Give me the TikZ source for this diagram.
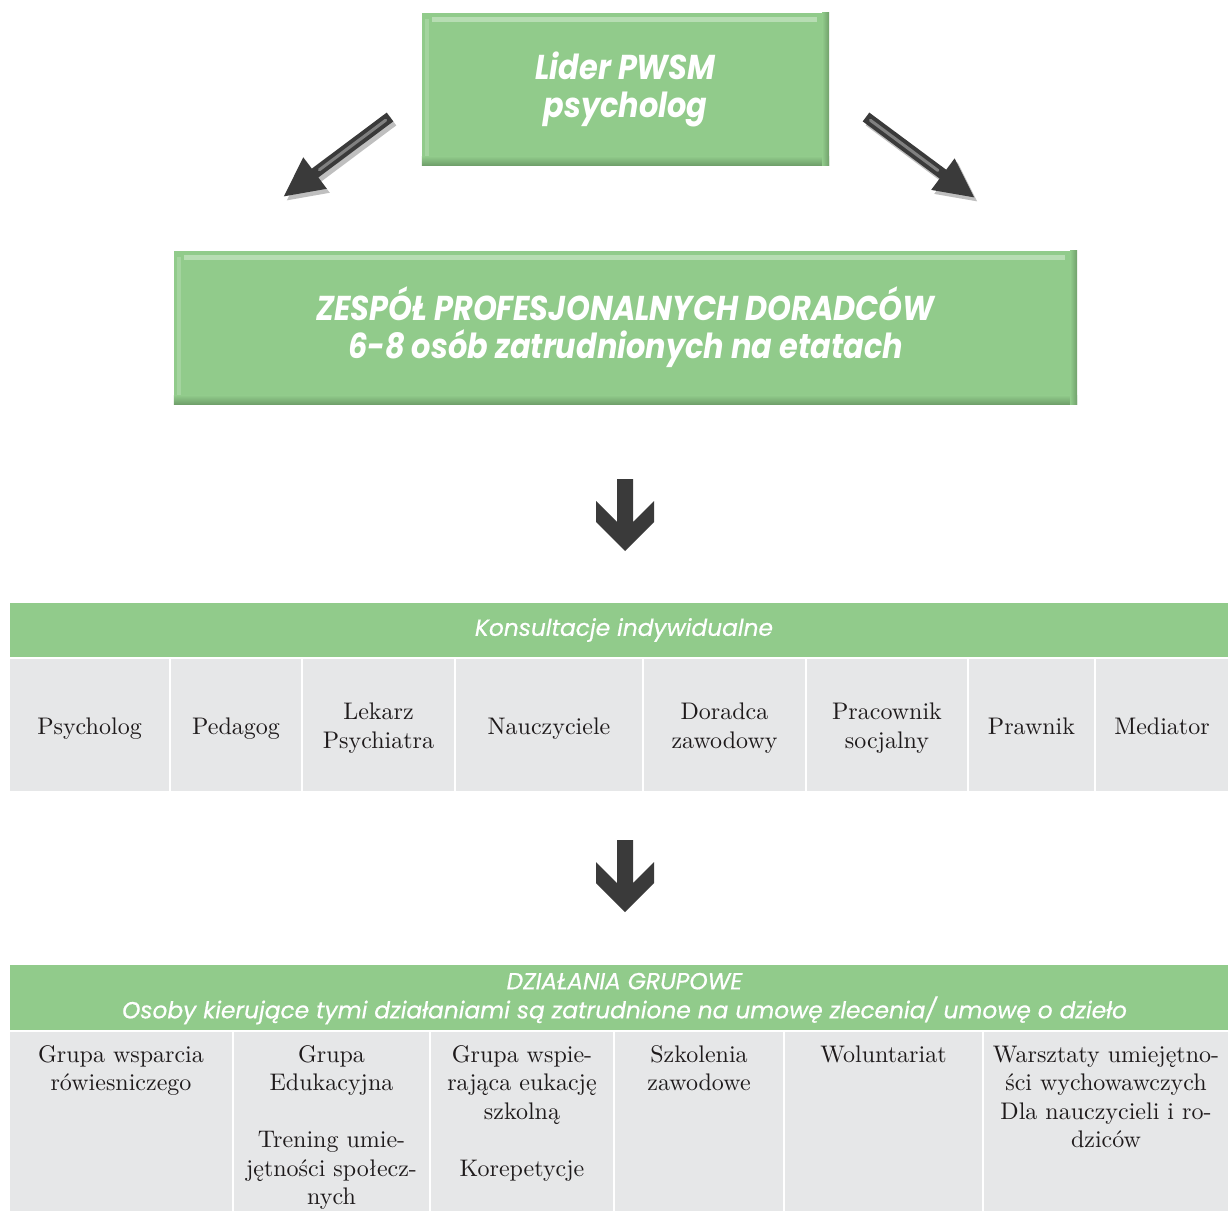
\documentclass[tikz,border=0pt]{standalone}
\usepackage{fontspec}
\setmainfont{lmroman10-regular.otf}
\newfontfamily\gothic[FakeStretch=0.88]{Poppins}
\newfontfamily\gothichdr[FakeBold=0.6]{Poppins}
\usetikzlibrary{arrows.meta,calc}
\pgfdeclarelayer{background}
\pgfsetlayers{background,main}
\definecolor{boxgreen}{HTML}{91CB8B}
\definecolor{boxdark}{HTML}{6F9F6A}
\definecolor{cellgray}{HTML}{E6E7E8}
\definecolor{arrowdark}{HTML}{3A3A3A}
\definecolor{arrowlight}{HTML}{808080}
\definecolor{textdark}{HTML}{1E1A1B}
\tikzset{
  gbox/.style={rectangle, fill=boxgreen, inner sep=0pt, align=center, text=white,
    font=\gothic\bfseries\itshape\fontsize{34.5}{38}\selectfont},
  hdrbar/.style={rectangle, fill=boxgreen, inner sep=0pt, anchor=north west},
  hdrtext/.style={inner sep=0pt, align=center, text=white,
    font=\gothichdr\itshape\fontsize{23.3}{29}\selectfont},
  cellbox/.style={rectangle, fill=cellgray, inner sep=0pt},
  celltext/.style={inner sep=0pt, align=center, text=textdark,
    font=\fontsize{24}{28.5}\selectfont},
  blockarrow/.style={fill=arrowdark},
  diagarrow/.style={line width=11pt, arrowdark, -{Triangle[length=40pt,width=36pt]}},
  diagshadow/.style={line width=11pt, black, opacity=0.25, -{Triangle[length=40pt,width=36pt]}},
  diaglight/.style={line width=3pt, arrowlight, line cap=round},
}
\begin{document}
\begin{tikzpicture}[x=1pt,y=-1pt]
\useasboundingbox[fill=white] (0,0) rectangle (1230,1210);

% ---------- green boxes ----------
\node[gbox, minimum width=407pt, minimum height=152pt] (lider) at (625.5,89) {Lider PWSM\\psycholog};
\node[gbox, minimum width=903pt, minimum height=153pt] (zespol) at (625.5,327.5)
  {ZESPÓŁ PROFESJONALNYCH DORADCÓW\\6-8 osób zatrudnionych na etatach};

\begin{pgfonlayer}{background}
\foreach \n in {lider,zespol}{
  \foreach \s in {0,1,2,3}{
    \fill[black, opacity=0.09] ($(\n.north west)+(4-\s,4-\s)$) rectangle ($(\n.south east)+(5+\s,5+\s)$);
  }
}
\end{pgfonlayer}
\foreach \n in {lider,zespol}{
  \shade[top color=boxgreen, bottom color=boxdark] ($(\n.south west)+(0,-9)$) rectangle (\n.south east);
  \shade[left color=boxgreen, right color=boxdark] ($(\n.north east)+(-7,0)$) rectangle (\n.south east);
  \fill[white, opacity=0.35] ($(\n.north west)+(10,4)$) rectangle ($(\n.north east)+(-12,9)$);
  \fill[white, opacity=0.18] ($(\n.north west)+(3,6)$) rectangle ($(\n.south west)+(7,-9)$);
}

% ---------- diagonal arrows ----------
\coordinate (la-tail) at (390,117);
\coordinate (la-tip) at (283,197);
\coordinate (ra-tail) at (866,117);
\coordinate (ra-tip) at (975,198);
\draw[diagshadow] ($(la-tail)+(3,4)$) -- ($(la-tip)+(3,4)$);
\draw[diagshadow] ($(ra-tail)+(3,4)$) -- ($(ra-tip)+(3,4)$);
\draw[diagarrow] (la-tail) -- (la-tip);
\draw[diagarrow] (ra-tail) -- (ra-tip);
\draw[diaglight] ($(la-tail)!0.04!(la-tip)$) -- ($(la-tail)!0.66!(la-tip)$);
\draw[diaglight] ($(ra-tail)!0.04!(ra-tip)$) -- ($(ra-tail)!0.66!(ra-tip)$);

% ---------- block arrows ----------
\coordinate (da1) at (625,479);
\coordinate (da2) at (625,840);
\foreach \c in {da1,da2}{
  \fill[blockarrow, shift={(\c)}] (-8,0) -- (8,0) -- (8,43) -- (29,22) -- (29,43) -- (0,72)
    -- (-29,43) -- (-29,22) -- (-8,43) -- cycle;
}

% ---------- table 1 ----------
\node[hdrbar, minimum width=1218pt, minimum height=54pt] (h1) at (10,603) {};
\node[hdrtext] (h1t) at (624,630) {Konsultacje indywidualne};
\foreach \a/\b/\t/\nm in {9/170/Psycholog/k1, 170/302/Pedagog/k2, 302/455/{Lekarz\\Psychiatra}/k3,
    455/643/Nauczyciele/k4, 643/806/{Doradca\\zawodowy}/k5, 806/968/{Pracownik\\socjalny}/k6,
    968/1095/Prawnik/k7, 1095/1229/Mediator/k8}{
  \pgfmathsetmacro\w{\b-\a-2}
  \pgfmathsetmacro\tw{\b-\a-8}
  \pgfmathsetmacro\mx{(\a+\b)/2}
  \node[cellbox, minimum width=\w pt, minimum height=132pt] (\nm) at (\mx,725) {};
  \node[celltext, text width=\tw pt, execute at begin node=\strut, execute at end node=\strut]
    (\nm-t) at ($(\nm.center)+(0,3.5)$) {\t};
}

% ---------- table 2 ----------
\node[hdrbar, minimum width=1218pt, minimum height=65pt] (h2) at (10,965) {};
\node[hdrtext, anchor=north, execute at begin node=\strut] (h2t) at (624.5,972.7)
  {DZIAŁANIA GRUPOWE\\Osoby kierujące tymi działaniami są zatrudnione na umowę zlecenia/ umowę o dzieło};
\foreach \a/\b/\t/\nm in {9/233/{Grupa wsparcia\\rówiesniczego}/g1,
    233/430/{Grupa\\Edukacyjna\\[28.5pt]Trening umie-\\jętności społecz-\\nych}/g2,
    430/614/{Grupa wspie-\\rająca eukację\\szkolną\\[28.5pt]Korepetycje}/g3,
    614/784/{Szkolenia\\zawodowe}/g4,
    784/983/{Woluntariat}/g5,
    983/1229/{Warsztaty umiejętno-\\ści wychowawczych\\Dla nauczycieli i ro-\\dziców}/g6}{
  \pgfmathsetmacro\w{\b-\a-2}
  \pgfmathsetmacro\tw{\b-\a-4}
  \pgfmathsetmacro\mx{(\a+\b)/2}
  \node[cellbox, minimum width=\w pt, minimum height=182pt, anchor=north] (\nm) at (\mx,1032) {};
  \node[celltext, text width=\tw pt, anchor=north, execute at begin node=\strut]
    (\nm-t) at (\mx,1042) {\t};
}
\end{tikzpicture}
\end{document}
